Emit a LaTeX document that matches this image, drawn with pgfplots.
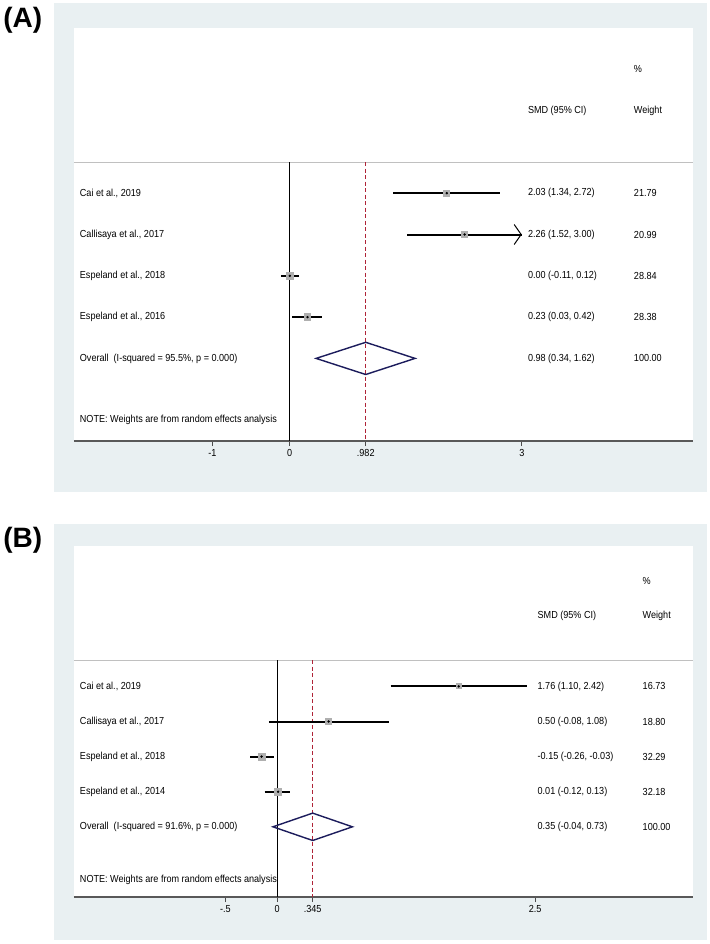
\documentclass[border=0pt]{standalone}
\usepackage{fontspec}
\setmainfont{Liberation Sans}[FakeStretch=0.89]
\newfontfamily\panelfont{Liberation Sans}
\usepackage{pgfplots}
\pgfplotsset{compat=1.18}
\usepackage{pgfplotstable}
\usetikzlibrary{arrows.meta}

\definecolor{panelbg}{RGB}{233,240,242}
\definecolor{refred}{RGB}{175,35,55}
\definecolor{diamond}{RGB}{28,28,92}
\definecolor{rulegray}{RGB}{192,192,192}
\definecolor{boxgray}{RGB}{175,175,175}

\newcommand\tf{\fontsize{10.2}{12}\selectfont}

% row, effect size, weight (CIs drawn below as segments)
\pgfplotstableread{
row es w
1 2.03 21.79
2 2.26 20.99
3 0.00 28.84
4 0.23 28.38
}\studiesA

\pgfplotstableread{
row es w
1 1.76 16.73
2 0.50 18.80
3 -0.15 32.29
4 0.01 32.18
}\studiesB

\tikzset{lab/.style={anchor=west, font=\tf, inner sep=0pt}}

\pgfplotsset{
  forest/.style={
    width=619pt, scale only axis,
    ymin=-7, ymax=3,
    axis x line*=bottom, axis y line=none,
    axis line style={-, draw=black!65, line width=1.3pt},
    ytick=\empty,
    tick align=outside, major tick length=5pt,
    tick style={black!70, line width=0.8pt},
    xticklabel style={font=\tf},
    /pgf/number format/assume math mode=true,
    unbounded coords=jump,
    clip=false,
  },
  ci/.style={black, line width=2pt, line cap=butt},
  boxes/.style={scatter, only marks, mark=square*,
    mark options={draw=boxgray, fill=boxgray, line width=0pt},
    scatter/use mapped color={draw=boxgray, fill=boxgray},
    visualization depends on={0.62*sqrt(\thisrow{w}) \as \msize},
    scatter/@pre marker code/.append style={/tikz/mark size=\msize}},
  dots/.style={only marks, mark=*, mark size=1pt, mark options={draw=black, fill=black}},
  refline/.style={draw=refred, dash pattern=on 4pt off 2.5pt, line width=1pt},
}

\begin{document}
\begin{tikzpicture}
\fill[white] (0,0) rectangle (709pt,-944pt);
\fill[panelbg] (53pt,-3pt) rectangle (706pt,-492pt);
\fill[white] (73pt,-28pt) rectangle (692pt,-441pt);
\fill[panelbg] (53pt,-524pt) rectangle (706pt,-940pt);
\fill[white] (73pt,-546pt) rectangle (692pt,-897pt);

\node[font=\panelfont\fontsize{28}{30}\selectfont\bfseries] at (22pt,-20pt) {(A)};
\node[font=\panelfont\fontsize{28}{30}\selectfont\bfseries] at (22pt,-540pt) {(B)};

% ---------------- panel A ----------------
\begin{axis}[forest, height=413pt, at={(73pt,-441pt)}, anchor=south west,
  xmin=-2.793, xmax=5.211,
  xtick={-1,0,0.982,3}, xticklabels={-1,0,.982,3}]
\addplot[rulegray, line width=1pt] coordinates {(-2.793,-0.25) (5.211,-0.25)};
\addplot[black, line width=0.9pt] coordinates {(0,-0.25) (0,-7)};
\addplot[refline] coordinates {(0.982,-0.25) (0.982,-7)};
\addplot[ci] coordinates {
  (1.34,-1) (2.72,-1) (nan,nan)
  (1.52,-2) (3.00,-2) (nan,nan)
  (-0.11,-3) (0.12,-3) (nan,nan)
  (0.03,-4) (0.42,-4)};
\addplot[black, line width=1pt, -{Straight Barb[length=7pt,width=20pt]}] coordinates {(2.9,-2) (3.0,-2)};
\addplot[boxes] table[x=es, y expr=-\thisrow{row}] {\studiesA};
\addplot[dots] table[x=es, y expr=-\thisrow{row}] {\studiesA};
\addplot[diamond, line width=1.4pt, line join=miter] coordinates {(0.34,-5) (0.982,-4.61) (1.62,-5) (0.982,-5.39) (0.34,-5) (0.982,-4.61)};

\node[lab] at (axis cs:4.448,2) {\%};
\node[lab] at (axis cs:3.078,1) {SMD (95\% CI)};
\node[lab] at (axis cs:4.448,1) {Weight};
\node[lab] at (axis cs:-2.716,-1) {Cai et al., 2019};
\node[lab] at (axis cs:-2.716,-2) {Callisaya et al., 2017};
\node[lab] at (axis cs:-2.716,-3) {Espeland et al., 2018};
\node[lab] at (axis cs:-2.716,-4) {Espeland et al., 2016};
\node[lab] at (axis cs:-2.716,-5) {Overall\ \ (I-squared = 95.5\%, p = 0.000)};
\node[lab] at (axis cs:-2.716,-6.5) {NOTE: Weights are from random effects analysis};
\node[lab] at (axis cs:3.078,-1) {2.03 (1.34, 2.72)};
\node[lab] at (axis cs:3.078,-2) {2.26 (1.52, 3.00)};
\node[lab] at (axis cs:3.078,-3) {0.00 (-0.11, 0.12)};
\node[lab] at (axis cs:3.078,-4) {0.23 (0.03, 0.42)};
\node[lab] at (axis cs:3.078,-5) {0.98 (0.34, 1.62)};
\node[lab] at (axis cs:4.448,-1) {21.79};
\node[lab] at (axis cs:4.448,-2) {20.99};
\node[lab] at (axis cs:4.448,-3) {28.84};
\node[lab] at (axis cs:4.448,-4) {28.38};
\node[lab] at (axis cs:4.448,-5) {100.00};
\end{axis}

% ---------------- panel B ----------------
\begin{axis}[forest, height=351pt, at={(73pt,-897pt)}, anchor=south west,
  xmin=-1.970, xmax=4.028,
  xtick={-0.5,0,0.345,2.5}, xticklabels={-.5,0,.345,2.5}]
\addplot[rulegray, line width=1pt] coordinates {(-1.970,-0.25) (4.028,-0.25)};
\addplot[black, line width=0.9pt] coordinates {(0,-0.25) (0,-7)};
\addplot[refline] coordinates {(0.345,-0.25) (0.345,-7)};
\addplot[ci] coordinates {
  (1.10,-1) (2.42,-1) (nan,nan)
  (-0.08,-2) (1.08,-2) (nan,nan)
  (-0.26,-3) (-0.03,-3) (nan,nan)
  (-0.12,-4) (0.13,-4)};
\addplot[boxes] table[x=es, y expr=-\thisrow{row}] {\studiesB};
\addplot[dots] table[x=es, y expr=-\thisrow{row}] {\studiesB};
\addplot[diamond, line width=1.4pt, line join=miter] coordinates {(-0.04,-5) (0.345,-4.61) (0.73,-5) (0.345,-5.39) (-0.04,-5) (0.345,-4.61)};

\node[lab] at (axis cs:3.541,2) {\%};
\node[lab] at (axis cs:2.523,1) {SMD (95\% CI)};
\node[lab] at (axis cs:3.541,1) {Weight};
\node[lab] at (axis cs:-1.912,-1) {Cai et al., 2019};
\node[lab] at (axis cs:-1.912,-2) {Callisaya et al., 2017};
\node[lab] at (axis cs:-1.912,-3) {Espeland et al., 2018};
\node[lab] at (axis cs:-1.912,-4) {Espeland et al., 2014};
\node[lab] at (axis cs:-1.912,-5) {Overall\ \ (I-squared = 91.6\%, p = 0.000)};
\node[lab] at (axis cs:-1.912,-6.5) {NOTE: Weights are from random effects analysis};
\node[lab] at (axis cs:2.523,-1) {1.76 (1.10, 2.42)};
\node[lab] at (axis cs:2.523,-2) {0.50 (-0.08, 1.08)};
\node[lab] at (axis cs:2.523,-3) {-0.15 (-0.26, -0.03)};
\node[lab] at (axis cs:2.523,-4) {0.01 (-0.12, 0.13)};
\node[lab] at (axis cs:2.523,-5) {0.35 (-0.04, 0.73)};
\node[lab] at (axis cs:3.541,-1) {16.73};
\node[lab] at (axis cs:3.541,-2) {18.80};
\node[lab] at (axis cs:3.541,-3) {32.29};
\node[lab] at (axis cs:3.541,-4) {32.18};
\node[lab] at (axis cs:3.541,-5) {100.00};
\end{axis}
\end{tikzpicture}
\end{document}
